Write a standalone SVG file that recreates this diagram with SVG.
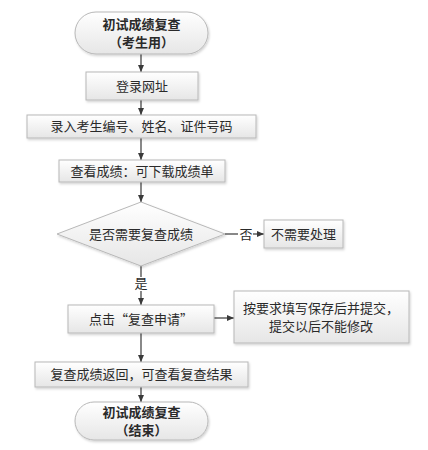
<svg xmlns="http://www.w3.org/2000/svg" width="428" height="450" viewBox="0 0 428 450">
<defs>
<linearGradient id="g" x1="0" y1="0" x2="0" y2="1">
<stop offset="0" stop-color="#ffffff"/>
<stop offset="1" stop-color="#e6e6e6"/>
</linearGradient>
<filter id="sh" x="-10%" y="-10%" width="120%" height="130%">
<feDropShadow dx="1" dy="1.5" stdDeviation="1" flood-color="#000" flood-opacity="0.18"/>
</filter>
<marker id="ah" markerWidth="8" markerHeight="8" refX="7" refY="4" orient="auto" markerUnits="userSpaceOnUse">
<path d="M0,1 L7,4 L0,7 Z" fill="#3a3a3a"/>
</marker>
</defs>
<style>
.n{fill:url(#g);stroke:#b8b8b8;stroke-width:1;filter:url(#sh)}
.t{font-family:"Noto Sans CJK SC","Liberation Serif",serif;font-size:13px;fill:#2a2a2a;text-anchor:middle}
.b{font-weight:bold}
.c{stroke:#3a3a3a;stroke-width:1.2;fill:none}
.a{marker-end:url(#ah)}
</style>
<rect width="428" height="450" fill="#ffffff"/>

<g id="connectors">
<line class="c a" x1="141" y1="54" x2="141" y2="72"/>
<line class="c a" x1="141" y1="100" x2="141" y2="115"/>
<line class="c a" x1="141" y1="138" x2="141" y2="160"/>
<line class="c a" x1="141" y1="182" x2="141" y2="202"/>
<line class="c" x1="225" y1="234" x2="238" y2="234"/>
<line class="c a" x1="253" y1="234" x2="264" y2="234"/>
<line class="c" x1="141" y1="266" x2="141" y2="277"/>
<line class="c a" x1="141" y1="291" x2="141" y2="305"/>
<line class="c a" x1="214" y1="318" x2="234" y2="318"/>
<line class="c a" x1="141" y1="333" x2="141" y2="362"/>
<line class="c a" x1="141" y1="387" x2="141" y2="402"/>
<text class="t" x="246" y="238.5">否</text>
<text class="t" x="141" y="288">是</text>
</g>

<g id="start">
<rect class="n" x="75" y="12" width="133" height="42" rx="21" ry="21"/>
<text class="t b" x="141.5" y="29">初试成绩复查</text>
<text class="t b" x="141.5" y="47">（考生用）</text>
</g>

<g id="login">
<rect class="n" x="86" y="72" width="112" height="28"/>
<text class="t" x="142" y="90.5">登录网址</text>
</g>

<g id="input">
<rect class="n" x="27" y="115" width="229" height="23"/>
<text class="t" x="141.5" y="131">录入考生编号、姓名、证件号码</text>
</g>

<g id="view">
<rect class="n" x="59" y="160" width="166" height="22"/>
<text class="t" x="142" y="175.5">查看成绩：可下载成绩单</text>
</g>

<g id="decision">
<polygon class="n" points="141,202 225,234 141,266 57,234"/>
<text class="t" x="141" y="238.5">是否需要复查成绩</text>
</g>

<g id="noneed">
<rect class="n" x="264" y="220" width="79" height="28"/>
<text class="t" x="303.5" y="238.5">不需要处理</text>
</g>

<g id="apply">
<rect class="n" x="68" y="305" width="146" height="28"/>
<text class="t" x="141" y="323.5">点击“复查申请”</text>
</g>

<g id="note">
<rect class="n" x="234" y="291" width="175" height="52"/>
<text class="t" x="321" y="313">按要求填写保存后并提交，</text>
<text class="t" x="321" y="331">提交以后不能修改</text>
</g>

<g id="result">
<rect class="n" x="35" y="362" width="213" height="25"/>
<text class="t" x="141.5" y="379">复查成绩返回，可查看复查结果</text>
</g>

<g id="end">
<rect class="n" x="75" y="402" width="133" height="38" rx="19" ry="19"/>
<text class="t b" x="141.5" y="417">初试成绩复查</text>
<text class="t b" x="141.5" y="435">（结束）</text>
</g>
</svg>
